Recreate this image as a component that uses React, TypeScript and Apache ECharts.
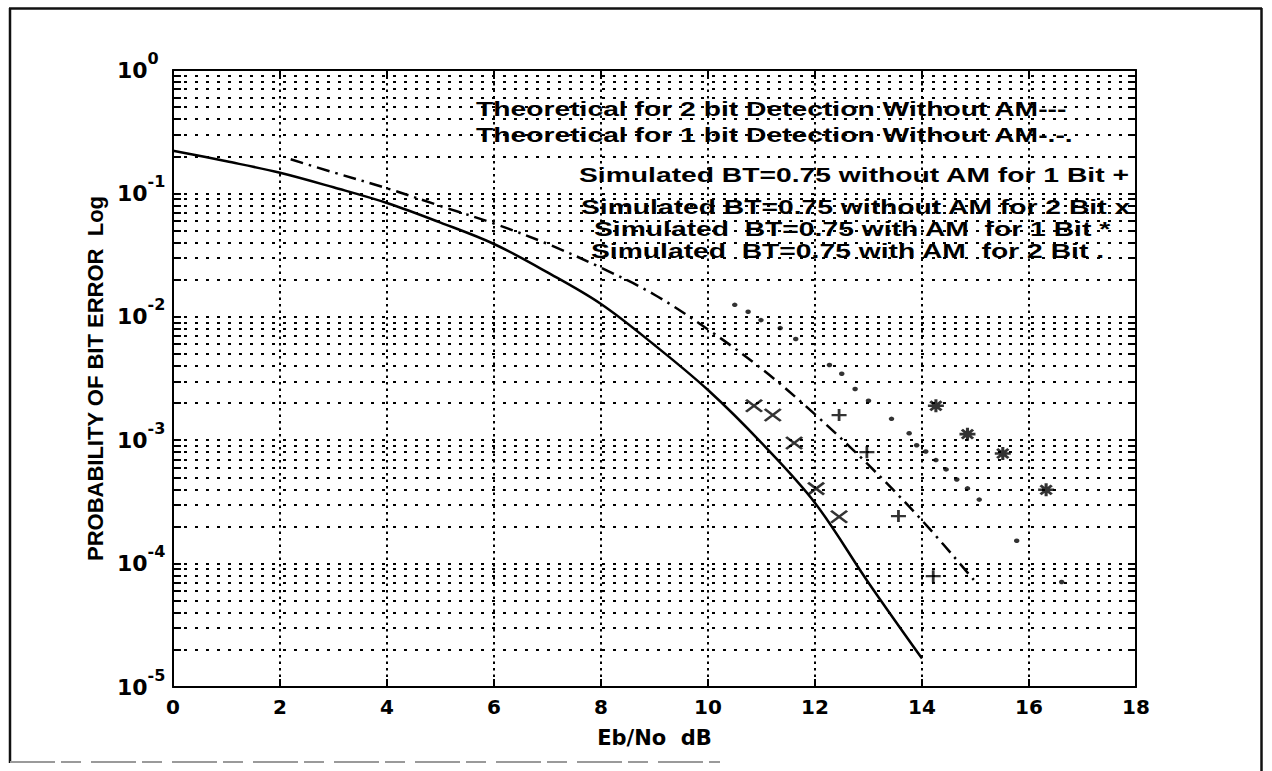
import React, { useEffect, useRef } from "react";
import * as echarts from "echarts";

// ---------- data ----------
const xTickValues = [0, 2, 4, 6, 8, 10, 12, 14, 16, 18];
const yDecades = [1e-5, 1e-4, 1e-3, 1e-2, 1e-1, 1];

const theory2Eb = [0, 1, 2, 3, 4, 5, 6, 7, 8, 9, 10, 11, 12, 13, 14];
const theory2P = [0.222, 0.182, 0.147, 0.112, 0.0836, 0.058, 0.0389, 0.0229, 0.0127, 0.0059, 0.00255, 0.00095, 0.00031, 0.00007, 0.000017];

const theory1Eb = [2.2, 3, 4, 5, 6, 7, 8, 9, 10, 11, 12, 13, 14, 15];
const theory1P = [0.189, 0.148, 0.11, 0.079, 0.057, 0.039, 0.025, 0.0151, 0.0079, 0.0038, 0.00162, 0.00063, 0.000224, 0.000071];

const sim1NoAmEb = [12.45, 12.97, 13.56, 14.21];
const sim1NoAmP = [0.0016, 0.0008, 0.000243, 0.000079];

const sim2NoAmEb = [10.86, 11.21, 11.61, 12.02, 12.45];
const sim2NoAmP = [0.0019, 0.0016, 0.00095, 0.000405, 0.00024];

const sim1AmEb = [14.26, 14.85, 15.51, 16.32];
const sim1AmP = [0.0019, 0.00112, 0.00078, 0.000396];

const sim2AmEb = [10.5, 10.75, 10.99, 11.35, 11.64, 12.27, 12.5, 12.75, 13.0, 13.43, 13.76, 13.9, 14.07, 14.26, 14.45, 14.65, 14.85, 15.07, 15.77, 16.61];
const sim2AmP = [0.0125, 0.011, 0.0094, 0.0081, 0.0066, 0.00407, 0.00346, 0.0026, 0.00209, 0.00149, 0.00114, 0.00091, 0.00081, 0.00069, 0.00058, 0.00048, 0.000407, 0.00033, 0.000153, 0.000071];

const legendLines = [
  "Theoretical for 2 bit Detection Without AM---",
  "Theoretical for 1 bit Detection Without AM-.-.",
  "Simulated BT=0.75 without AM for 1 Bit +",
  "Simulated BT=0.75 without AM for 2 Bit x",
  "Simulated  BT=0.75 with AM  for 1 Bit *",
  "Simulated  BT=0.75 with AM  for 2 Bit .",
];

const xAxisName = "Eb/No  dB";
const yAxisName = "PROBABILITY OF BIT ERROR  Log";

// ---------- helpers ----------
const zip = (xs: number[], ys: number[]) => xs.map((x, i) => [x, ys[i]]);

const PLUS = "path://M0 5L10 5M5 0L5 10";
const CROSS = "path://M0 0L10 10M10 0L0 10";
const STAR = "path://M0 5L10 5M5 0L5 10M1.5 1.5L8.5 8.5M8.5 1.5L1.5 8.5";

export default function App() {
  const ref = useRef<HTMLDivElement>(null);

  useEffect(() => {
    if (!ref.current) return;
    const chart = echarts.init(ref.current, undefined, { renderer: "svg" });

    // minor log grid positions 2..9 x 10^k
    const minorVals: number[] = [];
    for (let k = -5; k <= -1; k++) {
      for (let m = 2; m <= 9; m++) minorVals.push(m * Math.pow(10, k));
    }
    const allGridVals = [...yDecades, ...minorVals];

    const dotted = { color: "#000", width: 2, type: [3, 8] as number[] };
    const markData: any[] = [];
    minorVals.forEach((v) => {
      markData.push([
        { coord: [0, v], lineStyle: dotted },
        { coord: [18, v] },
      ]);
    });
    allGridVals.forEach((v) => {
      markData.push([
        { coord: [0, v], lineStyle: { color: "#000", width: 2, type: "solid" } },
        { coord: [0.15, v] },
      ]);
      markData.push([
        { coord: [17.85, v], lineStyle: { color: "#000", width: 2, type: "solid" } },
        { coord: [18, v] },
      ]);
    });

    const tickFont = { fontFamily: "DejaVu Sans", fontWeight: "bold" as const, color: "#000" };

    const option: any = {
      animation: false,
      backgroundColor: "#fff",
      grid: { left: 173, top: 70, width: 963, height: 617, containLabel: false },
      xAxis: [
        {
          type: "value",
          min: 0,
          max: 18,
          interval: 2,
          position: "bottom",
          axisLine: { show: true, onZero: false, lineStyle: { color: "#000", width: 2 } },
          axisTick: { show: true, inside: true, length: 8, lineStyle: { color: "#000", width: 2 } },
          axisLabel: {
            ...tickFont,
            fontSize: 20,
            margin: 10,
            formatter: (v: number) => (xTickValues.includes(v) ? String(v) : ""),
          },
          splitLine: { show: true, lineStyle: { color: "#000", width: 2, type: [2.5, 4] } },
          name: xAxisName,
          nameLocation: "middle",
          nameGap: 40,
          nameTextStyle: { ...tickFont, fontSize: 21 },
        },
        {
          type: "value",
          min: 0,
          max: 18,
          interval: 2,
          position: "top",
          axisLine: { show: true, onZero: false, lineStyle: { color: "#000", width: 2 } },
          axisTick: { show: true, inside: true, length: 8, lineStyle: { color: "#000", width: 2 } },
          axisLabel: { show: false },
          splitLine: { show: false },
        },
      ],
      yAxis: [
        {
          type: "log",
          logBase: 10,
          min: 1e-5,
          max: 1,
          splitNumber: 5,
          position: "left",
          axisLine: { show: true, onZero: false, lineStyle: { color: "#000", width: 2 } },
          axisTick: { show: false },
          axisLabel: {
            align: "left",
            margin: 56,
            formatter: (v: number) => `{a|10}{b|${Math.round(Math.log10(v))}}`,
            rich: {
              a: { ...tickFont, fontSize: 22 },
              b: { ...tickFont, fontSize: 16, padding: [0, 0, 24, 0] },
            },
          },
          splitLine: { show: true, lineStyle: dotted },
          name: yAxisName,
          nameLocation: "middle",
          nameGap: 66,
          nameRotate: 90,
          nameTextStyle: { fontFamily: "Liberation Sans", fontWeight: "bold", fontSize: 22, color: "#000" },
        },
        {
          type: "log",
          logBase: 10,
          min: 1e-5,
          max: 1,
          splitNumber: 5,
          position: "right",
          axisLine: { show: true, onZero: false, lineStyle: { color: "#000", width: 2 } },
          axisTick: { show: false },
          axisLabel: { show: false },
          splitLine: { show: false },
        },
      ],
      series: [
        {
          name: "grid",
          type: "line",
          data: [],
          silent: true,
          z: 1,
          markLine: {
            silent: true,
            symbol: ["none", "none"],
            label: { show: false },
            emphasis: { disabled: true },
            animation: false,
            data: markData,
          },
        },
        {
          name: legendLines[0],
          type: "line",
          data: zip(theory2Eb, theory2P),
          showSymbol: false,
          smooth: 0.35,
          z: 5,
          lineStyle: { color: "#000", width: 2.5, type: "solid" },
        },
        {
          name: legendLines[1],
          type: "line",
          data: zip(theory1Eb, theory1P),
          showSymbol: false,
          smooth: 0.35,
          z: 5,
          lineStyle: { color: "#000", width: 2.5, type: [13, 6, 2.5, 6] },
        },
        {
          name: legendLines[2],
          type: "scatter",
          data: zip(sim1NoAmEb, sim1NoAmP),
          symbol: PLUS,
          symbolSize: [15, 12],
          z: 6,
          itemStyle: { color: "#000", borderColor: "#000", borderWidth: 2.5 },
        },
        {
          name: legendLines[3],
          type: "scatter",
          data: zip(sim2NoAmEb, sim2NoAmP),
          symbol: CROSS,
          symbolSize: [16, 12],
          z: 6,
          itemStyle: { color: "#000", borderColor: "#000", borderWidth: 2.6 },
        },
        {
          name: legendLines[4],
          type: "scatter",
          data: zip(sim1AmEb, sim1AmP),
          symbol: STAR,
          symbolSize: [16, 13],
          z: 6,
          itemStyle: { color: "#000", borderColor: "#000", borderWidth: 2.8 },
        },
        {
          name: legendLines[5],
          type: "scatter",
          data: zip(sim2AmEb, sim2AmP),
          symbol: "circle",
          symbolSize: [5.5, 4.5],
          z: 6,
          itemStyle: { color: "#000" },
        },
      ],
      graphic: [
        // outer frame
        { type: "line", shape: { x1: 9, y1: 8.5, x2: 1262, y2: 8.5 }, style: { stroke: "#111", lineWidth: 2.5 } },
        { type: "line", shape: { x1: 10, y1: 8, x2: 10, y2: 763 }, style: { stroke: "#111", lineWidth: 2.5 } },
        { type: "line", shape: { x1: 1261.5, y1: 8, x2: 1261.5, y2: 771 }, style: { stroke: "#111", lineWidth: 2.5 } },
        { type: "line", shape: { x1: 10, y1: 762, x2: 720, y2: 762 }, style: { stroke: "#9a9a9a", lineWidth: 2, lineDash: [45, 6, 20, 10] } },
        // legend text
        ...legendLines.map((t, i) => ({
          type: "text",
          x: [476, 476, 579, 581, 594, 591][i],
          y: [109, 135, 175, 207, 229, 251][i],
          scaleX: 1.45,
          z: 10,
          style: {
            text: t,
            fill: "#000",
            fontFamily: "Liberation Sans",
            fontWeight: "bold",
            fontSize: 19.5,
            align: "left",
            verticalAlign: "middle",
          },
        })),
      ],
    };

    chart.setOption(option);
    return () => chart.dispose();
  }, []);

  return (
    <div
      ref={ref}
      style={{ position: "fixed", left: 0, top: 0, width: 1272, height: 771, background: "#fff" }}
    />
  );
}
